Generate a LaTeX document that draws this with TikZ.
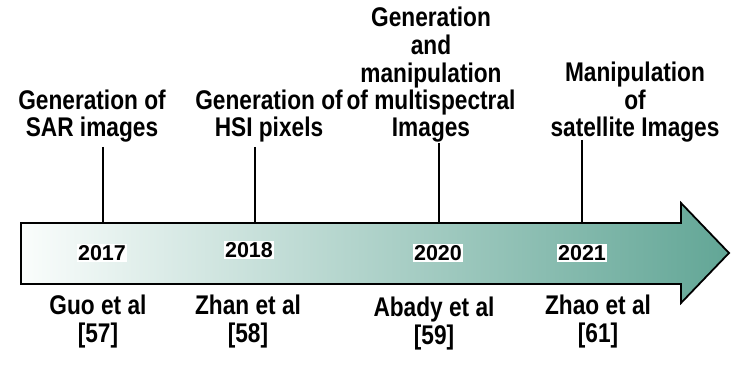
\documentclass[tikz,border=0pt]{standalone}
\usepackage{fontspec}
\setmainfont{Liberation Sans}
\newfontfamily\narrowfont[FakeStretch=0.84]{Liberation Sans}
\definecolor{tealend}{RGB}{98,166,150}
\definecolor{tealstart}{RGB}{250,253,252}
\begin{document}
\begin{tikzpicture}[x=1pt,y=-1pt,
  lab/.style={font=\narrowfont\bfseries\fontsize{27}{27.5}\selectfont,align=center,inner sep=0pt,anchor=base},
  yearbox/.style={font=\bfseries\fontsize{21.5}{24}\selectfont,fill=white,inner sep=1.5pt},
  tick/.style={line width=1.5pt,black}]
\useasboundingbox (0,0) rectangle (747,385);
% arrow
\draw[line width=1.8pt,left color=tealstart,right color=tealend,shading angle=90,line join=miter]
  (21,223) -- (681,223) -- (681,203) -- (729,253) -- (681,303) -- (681,284) -- (21,284) -- cycle;
\coordinate (top) at (21,223);
% year labels
\node[yearbox] (y1) at (102,253) {2017};
\node[yearbox] (y2) at (249,250) {2018};
\node[yearbox] (y3) at (438,253) {2020};
\node[yearbox] (y4) at (582,253) {2021};
% top labels (anchored at baseline of last line)
\node[lab] (l1) at (92,137) {Generation of\\SAR images};
\node[lab] (l2) at (269,137) {Generation of\\HSI pixels};
\node[lab] (l3) at (431,137) {Generation\\and\\manipulation\\of multispectral\\Images};
\node[lab] (l4) at (635,137) {Manipulation\\of\\satellite Images};
% ticks
\coordinate (t1) at (103,147);
\coordinate (t2) at (255,147);
\coordinate (t3) at (439,143);
\coordinate (t4) at (582,140);
\draw[tick] (t1) -- (t1 |- top);
\draw[tick] (t2) -- (t2 |- top);
\draw[tick] (t3) -- (t3 |- top);
\draw[tick] (t4) -- (t4 |- top);
% bottom labels
\node[lab] (b1) at (98,342) {Guo et al\\{}[57]};
\node[lab] (b2) at (248,342) {Zhan et al\\{}[58]};
\node[lab] (b3) at (434,344) {Abady et al\\{}[59]};
\node[lab] (b4) at (598,342) {Zhao et al\\{}[61]};
\end{tikzpicture}
\end{document}
